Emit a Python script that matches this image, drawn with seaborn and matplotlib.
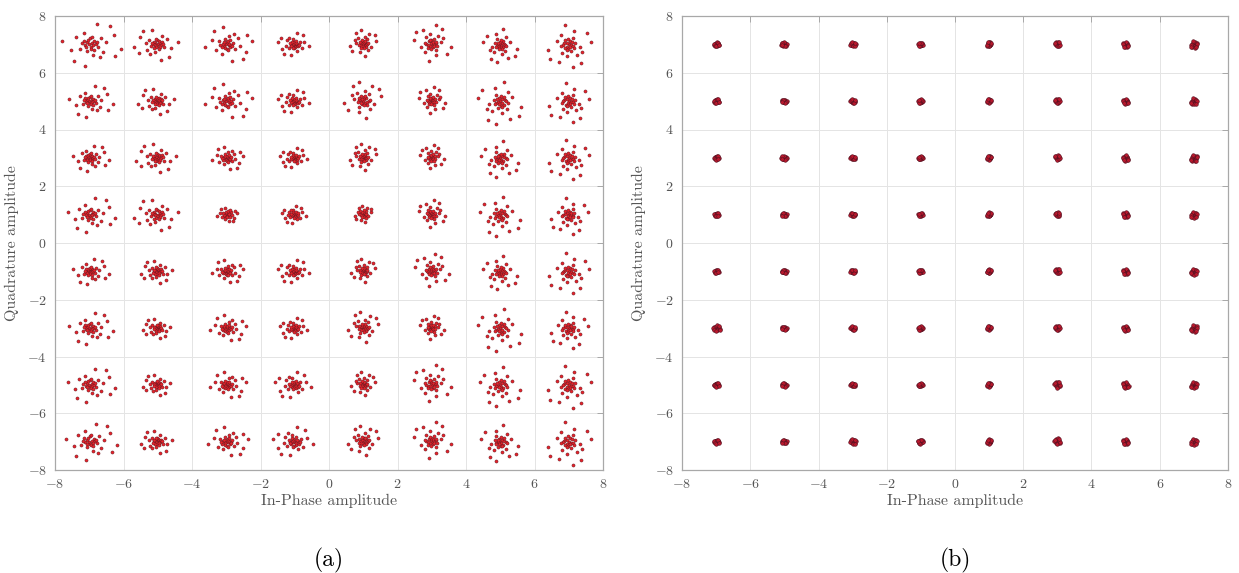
import numpy as np
import pandas as pd
import matplotlib
matplotlib.use("Agg")
import matplotlib.pyplot as plt
import seaborn as sns

# --- data -------------------------------------------------------------
levels = [-7, -5, -3, -1, 1, 3, 5, 7]          # 64-QAM grid levels (I and Q)
ticks = [-8, -6, -4, -2, 0, 2, 4, 6, 8]

# hand-read normalised scatter pattern of one constellation cluster
# (dense core + sparse outliers, deliberately asymmetric)
base_dx = [0.00, 0.12, -0.10, 0.05, -0.18, 0.20, -0.05, 0.15, -0.22, 0.08, 0.25, -0.12,
           0.02, 0.30, -0.28, 0.18, -0.08, 0.35, 0.10, -0.35,
           0.45, -0.50, 0.55, 0.15, -0.20, 0.65, -0.70, 0.40,
           0.95, -1.05, 1.25, 0.30, -0.60, 0.80, -0.15, 1.00]
base_dy = [0.00, 0.06, 0.10, -0.12, -0.04, 0.15, 0.22, -0.05, 0.18, -0.20, 0.02, -0.14,
           0.28, 0.10, 0.05, -0.25, -0.30, -0.10, 0.35, -0.20,
           0.30, 0.35, -0.35, -0.50, 0.55, 0.10, -0.25, -0.60,
           0.45, 0.15, -0.20, 0.95, -0.80, 0.85, -1.00, -0.55]

# cluster spread: rows Q = 7 .. -7, columns I = -7 .. 7
spread_a = [
    [0.75, 0.55, 0.60, 0.40, 0.40, 0.55, 0.50, 0.65],
    [0.55, 0.45, 0.60, 0.40, 0.55, 0.40, 0.65, 0.60],
    [0.45, 0.50, 0.40, 0.35, 0.40, 0.35, 0.55, 0.60],
    [0.60, 0.55, 0.25, 0.30, 0.25, 0.40, 0.60, 0.55],
    [0.45, 0.40, 0.40, 0.40, 0.35, 0.50, 0.50, 0.60],
    [0.55, 0.35, 0.45, 0.35, 0.45, 0.35, 0.65, 0.55],
    [0.60, 0.35, 0.45, 0.45, 0.35, 0.55, 0.60, 0.65],
    [0.65, 0.40, 0.50, 0.50, 0.45, 0.55, 0.55, 0.65],
]
# cluster spread
spread_b = [
    [0.07, 0.07, 0.07, 0.06, 0.07, 0.07, 0.08, 0.10],
    [0.07, 0.06, 0.06, 0.06, 0.06, 0.07, 0.08, 0.09],
    [0.06, 0.07, 0.06, 0.06, 0.06, 0.07, 0.08, 0.10],
    [0.06, 0.06, 0.06, 0.06, 0.06, 0.06, 0.08, 0.09],
    [0.06, 0.06, 0.06, 0.06, 0.06, 0.07, 0.08, 0.09],
    [0.10, 0.06, 0.06, 0.06, 0.06, 0.07, 0.08, 0.10],
    [0.07, 0.06, 0.06, 0.06, 0.06, 0.09, 0.09, 0.09],
    [0.07, 0.06, 0.08, 0.07, 0.07, 0.09, 0.08, 0.09],
]


def build(spread):
    rows = []
    bdx = np.array(base_dx)
    bdy = np.array(base_dy)
    for r, q in enumerate(levels[::-1]):
        for c, i in enumerate(levels):
            k = r * 8 + c
            # one of the 8 symmetries of the square, so clusters differ
            sx = -1 if k % 2 else 1
            sy = -1 if (k // 2) % 2 else 1
            dx, dy = (bdy, bdx) if (k // 4) % 2 else (bdx, bdy)
            s = spread[r][c]
            for a, b in zip(dx, dy):
                rows.append((i + sx * a * s, q + sy * b * s))
    return pd.DataFrame(rows, columns=["I", "Q"])


df_a = build(spread_a)
df_b = build(spread_b)

# --- style ------------------------------------------------------------
sns.set_style("white")
plt.rcParams["font.family"] = ["cmr10", "DejaVu Serif"]
plt.rcParams["mathtext.fontset"] = "cm"
plt.rcParams["axes.formatter.use_mathtext"] = True

fig = plt.figure(figsize=(12.39, 5.73), dpi=100)
W, H = 1239, 573
boxes = [(55, 16, 603, 470), (682, 16, 1228, 470)]
axes = [fig.add_axes([x0 / W, 1 - y1 / H, (x1 - x0) / W, (y1 - y0) / H]) for x0, y0, x1, y1 in boxes]

for ax, df, face, edge, size, lab in [
    (axes[0], df_a, "#e8242c", "#6a1a22", 5, "(a)"),
    (axes[1], df_b, "#b8182c", "#4a1020", 7, "(b)"),
]:
    sns.scatterplot(data=df, x="I", y="Q", ax=ax, s=size, color=face,
                    edgecolor=edge, linewidth=0.35, legend=False, zorder=3)
    ax.set_xlim(-8, 8)
    ax.set_ylim(-8, 8)
    ax.set_xticks(ticks)
    ax.set_yticks(ticks)
    ax.grid(True, color="#e4e4e4", lw=0.7, zorder=0)
    ax.set_axisbelow(True)
    for sp in ax.spines.values():
        sp.set_color("#a8a8a8")
        sp.set_linewidth(0.9)
    ax.tick_params(direction="in", length=4, width=0.7, color="#a8a8a8",
                   top=True, right=True, labelsize=10, labelcolor="#555555", pad=6)
    ax.set_xlabel("In-Phase amplitude", fontsize=11.5, color="#555555", labelpad=2)
    ax.set_ylabel("Quadrature amplitude", fontsize=11.5, color="#555555", labelpad=6)
    ax.text(0.5, -0.2, lab, transform=ax.transAxes, ha="center", va="center",
            fontsize=17, color="black")

fig.savefig("out.png", dpi=100)
